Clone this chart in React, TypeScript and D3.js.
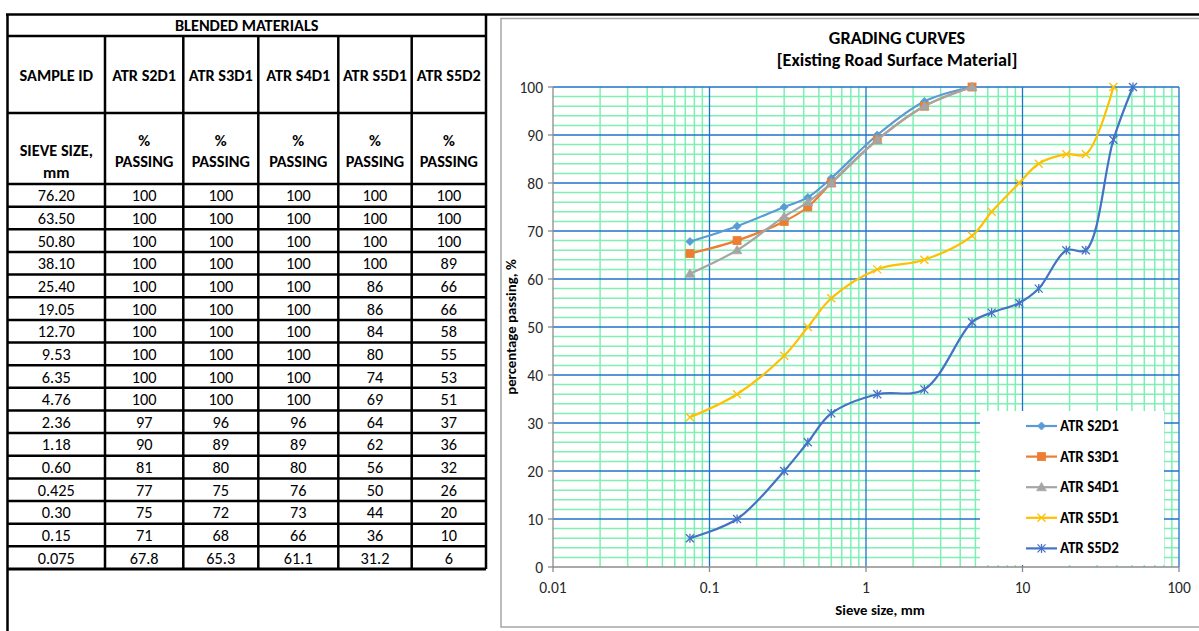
import React from "react";
import * as d3 from "d3";

// ---------- DATA ----------
const sieveLabels = ["76.20", "63.50", "50.80", "38.10", "25.40", "19.05", "12.70", "9.53", "6.35", "4.76", "2.36", "1.18", "0.60", "0.425", "0.30", "0.15", "0.075"];
const seriesNames = ["ATR S2D1", "ATR S3D1", "ATR S4D1", "ATR S5D1", "ATR S5D2"];
const s2d1 = [100, 100, 100, 100, 100, 100, 100, 100, 100, 100, 97, 90, 81, 77, 75, 71, 67.8];
const s3d1 = [100, 100, 100, 100, 100, 100, 100, 100, 100, 100, 96, 89, 80, 75, 72, 68, 65.3];
const s4d1 = [100, 100, 100, 100, 100, 100, 100, 100, 100, 100, 96, 89, 80, 76, 73, 66, 61.1];
const s5d1 = [100, 100, 100, 100, 86, 86, 84, 80, 74, 69, 64, 62, 56, 50, 44, 36, 31.2];
const s5d2 = [100, 100, 100, 89, 66, 66, 58, 55, 53, 51, 37, 36, 32, 26, 20, 10, 6];
const seriesValues = [s2d1, s3d1, s4d1, s5d1, s5d2];
const seriesColors = ["#5B9BD5", "#ED7D31", "#A5A5A5", "#FFC000", "#4472C4"];
const seriesMarkers = ["diamond", "square", "triangle", "x", "star"];
const xTickValues = [0.01, 0.1, 1, 10, 100];
const xTickLabels = ["0.01", "0.1", "1", "10", "100"];
const yTickValues = [0, 10, 20, 30, 40, 50, 60, 70, 80, 90, 100];

const FONT = "Carlito, Calibri, Lato, 'Open Sans', sans-serif";

// ---------- CHART GEOMETRY ----------
const x = d3.scaleLog().domain([0.01, 100]).range([553, 1179]);
const y = d3.scaleLinear().domain([0, 100]).range([567, 87]);

// table geometry
const colEdges = [7.5, 105, 183.3, 258.3, 338.3, 411.7, 486];
const rowTop = 14.5;
const titleBottom = 36;
const headBottom = 113;
const unitBottom = 184;
const tableBottom = 569;
const rowH = (tableBottom - unitBottom) / sieveLabels.length;
const TF = 16.3;

function Marker({ kind, color, cx, cy }: { kind: string; color: string; cx: number; cy: number }) {
  if (kind === "diamond") {
    const r = 4;
    return <path d={`M${cx},${cy - r}L${cx + r},${cy}L${cx},${cy + r}L${cx - r},${cy}Z`} fill={color} stroke={color} strokeWidth={0.8} />;
  }
  if (kind === "square") {
    const r = 4;
    return <rect x={cx - r} y={cy - r} width={2 * r} height={2 * r} fill={color} stroke={color} strokeWidth={0.8} />;
  }
  if (kind === "triangle") {
    const p = d3.symbol().type(d3.symbolTriangle).size(42)() as string;
    return <path d={p} transform={`translate(${cx},${cy + 0.8})`} fill={color} stroke={color} strokeWidth={0.6} />;
  }
  const r = 4;
  return (
    <g stroke={color} strokeWidth={1.3} fill="none">
      <line x1={cx - r} y1={cy - r} x2={cx + r} y2={cy + r} />
      <line x1={cx - r} y1={cy + r} x2={cx + r} y2={cy - r} />
      {kind === "star" && <line x1={cx} y1={cy - r - 0.5} x2={cx} y2={cy + r + 0.5} />}
    </g>
  );
}

export default function App() {
  const sieveNums = sieveLabels.map(Number);

  // chart points: ascending sieve size, up to (and including) the first 100 %
  const chartSeries = seriesValues.map((vals) => {
    const pts = sieveNums.map((s, i) => ({ x: s, y: vals[i] })).sort((a, b) => a.x - b.x);
    const idx = pts.findIndex((p) => p.y >= 100);
    return idx >= 0 ? pts.slice(0, idx + 1) : pts;
  });

  const lineGen = d3
    .line<{ x: number; y: number }>()
    .x((d) => x(d.x))
    .y((d) => y(d.y))
    .curve(d3.curveCatmullRom.alpha(0.5));

  // grid
  const minorX: number[] = [];
  for (let e = -2; e < 2; e++) {
    for (let m = 2; m <= 9; m++) minorX.push(m * Math.pow(10, e));
  }
  const minorY: number[] = [];
  for (let v = 2; v < 100; v += 2) if (v % 10 !== 0) minorY.push(v);

  const [x0, x1] = x.range();
  const [y0, y1] = y.range();

  const legendY0 = 426;
  const legendStep = 30.6;

  return (
    <svg width={1199} height={631} style={{ position: "absolute", left: 0, top: 0, background: "#fff" }} fontFamily={FONT}>
      <rect x={0} y={0} width={1199} height={631} fill="#fff" />

      {/* ---------- TABLE ---------- */}
      <g fill="#000">
        <text x={(colEdges[0] + colEdges[6]) / 2} y={(rowTop + titleBottom) / 2 + 6} textAnchor="middle" fontWeight="bold" fontSize={TF}>
          BLENDED MATERIALS
        </text>
        <text x={(colEdges[0] + colEdges[1]) / 2} y={(titleBottom + headBottom) / 2 + 6} textAnchor="middle" fontWeight="bold" fontSize={TF}>
          SAMPLE ID
        </text>
        {seriesNames.map((n, i) => (
          <text key={n} x={(colEdges[i + 1] + colEdges[i + 2]) / 2} y={(titleBottom + headBottom) / 2 + 6} textAnchor="middle" fontWeight="bold" fontSize={TF}>
            {n}
          </text>
        ))}
        <text x={(colEdges[0] + colEdges[1]) / 2} y={156} textAnchor="middle" fontWeight="bold" fontSize={TF}>
          SIEVE SIZE,
        </text>
        <text x={(colEdges[0] + colEdges[1]) / 2} y={178} textAnchor="middle" fontWeight="bold" fontSize={TF}>
          mm
        </text>
        {seriesNames.map((n, i) => (
          <g key={n + "u"}>
            <text x={(colEdges[i + 1] + colEdges[i + 2]) / 2} y={146} textAnchor="middle" fontWeight="bold" fontSize={TF}>
              %
            </text>
            <text x={(colEdges[i + 1] + colEdges[i + 2]) / 2} y={167} textAnchor="middle" fontWeight="bold" fontSize={TF}>
              PASSING
            </text>
          </g>
        ))}
        {sieveLabels.map((lab, r) => {
          const cy = unitBottom + rowH * (r + 0.5) + 6;
          return (
            <g key={lab}>
              <text x={(colEdges[0] + colEdges[1]) / 2} y={cy} textAnchor="middle" fontSize={TF}>
                {lab}
              </text>
              {seriesValues.map((vals, c) => (
                <text key={c} x={(colEdges[c + 1] + colEdges[c + 2]) / 2} y={cy} textAnchor="middle" fontSize={TF}>
                  {String(vals[r])}
                </text>
              ))}
            </g>
          );
        })}
      </g>
      <g stroke="#000" strokeWidth={2.5} fill="none">
        <line x1={6} y1={rowTop} x2={1199} y2={rowTop} />
        <line x1={colEdges[0]} y1={rowTop} x2={colEdges[0]} y2={631} />
        <line x1={colEdges[6]} y1={rowTop} x2={colEdges[6]} y2={tableBottom} />
        <line x1={colEdges[0]} y1={titleBottom} x2={colEdges[6]} y2={titleBottom} />
        <line x1={colEdges[0]} y1={headBottom} x2={colEdges[6]} y2={headBottom} />
        <line x1={colEdges[0]} y1={unitBottom} x2={colEdges[6]} y2={unitBottom} />
        {sieveLabels.map((_, r) => (
          <line key={r} x1={colEdges[0]} y1={unitBottom + rowH * (r + 1)} x2={colEdges[6]} y2={unitBottom + rowH * (r + 1)} strokeWidth={r === sieveLabels.length - 1 ? 3 : 2.5} />
        ))}
        {colEdges.slice(1, 6).map((cx, i) => (
          <line key={i} x1={cx} y1={titleBottom} x2={cx} y2={tableBottom} />
        ))}
      </g>

      {/* ---------- CHART ---------- */}
      <rect x={501} y={18.5} width={720} height={608.5} fill="#fff" stroke="#A6A6A6" strokeWidth={1.5} />

      <text x={897} y={44} textAnchor="middle" fontWeight="bold" fontSize={18.2} fill="#000">
        GRADING CURVES
      </text>
      <text x={897} y={66} textAnchor="middle" fontWeight="bold" fontSize={18.2} fill="#000">
        [Existing Road Surface Material]
      </text>

      {/* minor grid */}
      <g stroke="#7EF0B4" strokeWidth={1.5}>
        {minorX.map((v) => (
          <line key={"mx" + v} x1={x(v)} x2={x(v)} y1={y1} y2={y0} />
        ))}
        {minorY.map((v) => (
          <line key={"my" + v} x1={x0} x2={x1} y1={y(v)} y2={y(v)} />
        ))}
      </g>
      {/* major grid */}
      <g stroke="#1C74C9" strokeWidth={1.3}>
        {xTickValues.slice(1).map((v) => (
          <line key={"Mx" + v} x1={x(v)} x2={x(v)} y1={y1} y2={y0} />
        ))}
        {yTickValues.slice(1).map((v) => (
          <line key={"My" + v} x1={x0} x2={x1} y1={y(v)} y2={y(v)} />
        ))}
      </g>
      {/* axes */}
      <g stroke="#8C8C8C" strokeWidth={1.3}>
        <line x1={x0} x2={x0} y1={y1} y2={y0 + 0.5} />
        <line x1={x0} x2={x1} y1={y0} y2={y0} />
        {xTickValues.map((v) => (
          <line key={"tx" + v} x1={x(v)} x2={x(v)} y1={y0} y2={y0 + 5} />
        ))}
        {yTickValues.map((v) => (
          <line key={"ty" + v} x1={x0 - 5} x2={x0} y1={y(v)} y2={y(v)} />
        ))}
      </g>
      <g fontSize={15.5} fill="#262626">
        {yTickValues.map((v) => (
          <text key={"ly" + v} x={x0 - 10} y={y(v) + 5.5} textAnchor="end">
            {v}
          </text>
        ))}
        {xTickValues.map((v, i) => (
          <text key={"lx" + v} x={x(v)} y={y0 + 26} textAnchor="middle">
            {xTickLabels[i]}
          </text>
        ))}
      </g>
      <text x={880} y={615} textAnchor="middle" fontWeight="bold" fontSize={14.8} fill="#000">
        Sieve size, mm
      </text>
      <text transform={`translate(516,327) rotate(-90)`} textAnchor="middle" fontWeight="bold" fontSize={14.8} fill="#000">
        percentage passing, %
      </text>

      {/* series */}
      {chartSeries.map((pts, i) => (
        <g key={seriesNames[i]}>
          <path d={lineGen(pts) as string} fill="none" stroke={seriesColors[i]} strokeWidth={2.2} />
          {pts.map((p, j) => (
            <Marker key={j} kind={seriesMarkers[i]} color={seriesColors[i]} cx={x(p.x)} cy={y(p.y)} />
          ))}
        </g>
      ))}

      {/* legend */}
      <rect x={980} y={411} width={184} height={154} fill="#fff" />
      {seriesNames.map((n, i) => {
        const ly = legendY0 + legendStep * i;
        return (
          <g key={"lg" + n}>
            <line x1={1026} x2={1057} y1={ly} y2={ly} stroke={seriesColors[i]} strokeWidth={2.2} />
            <Marker kind={seriesMarkers[i]} color={seriesColors[i]} cx={1041.5} cy={ly} />
            <text x={1060} y={ly + 5} fontWeight="bold" fontSize={15} fill="#000">
              {n}
            </text>
          </g>
        );
      })}
    </svg>
  );
}
